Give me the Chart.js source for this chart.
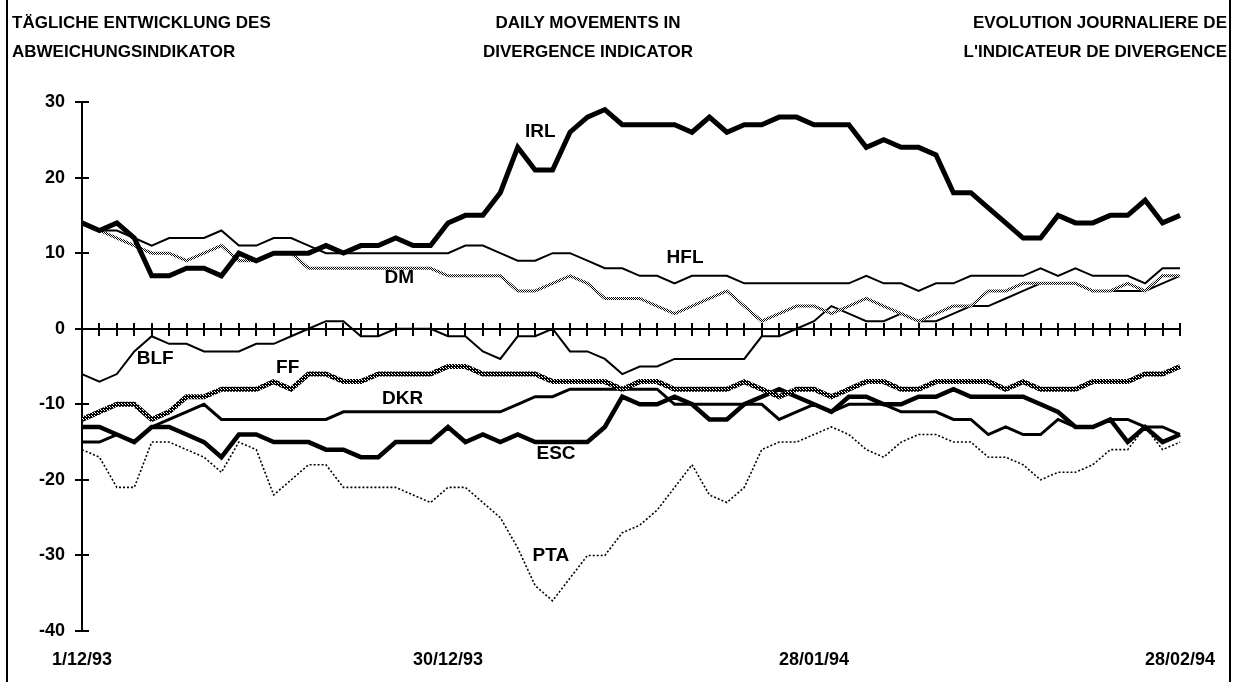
<!DOCTYPE html>
<html>
<head>
<meta charset="utf-8">
<script src="https://cdn.jsdelivr.net/npm/chart.js@4.4.1/dist/chart.umd.min.js"></script>
<style>
  body { margin: 0; background: #fff; }
  #wrap { position: relative; width: 1239px; height: 682px; background: #fff; overflow: hidden; }
  .ttl { position: absolute; top: 8px; font: bold 17px "Liberation Sans", Arial, sans-serif; line-height: 29px; color: #000; white-space: nowrap; }
  .frame { position: absolute; top: 0; width: 2px; height: 682px; background: #000; }
</style>
</head>
<body>
<div id="wrap">
  <canvas id="chart" width="1239" height="682"></canvas>
  <div class="ttl" style="left:12px;">TÄGLICHE ENTWICKLUNG DES<br>ABWEICHUNGSINDIKATOR</div>
  <div class="ttl" style="left:388px;width:400px;text-align:center;">DAILY MOVEMENTS IN<br>DIVERGENCE INDICATOR</div>
  <div class="ttl" style="right:12px;text-align:right;">EVOLUTION JOURNALIERE DE<br>L'INDICATEUR DE DIVERGENCE</div>
  <div class="frame" style="left:6px;"></div>
  <div class="frame" style="left:1229px;"></div>
</div>
<script>
// business days 1/12/93 .. 28/02/94
const dates = [
  '1/12/93','2/12/93','3/12/93','6/12/93','7/12/93','8/12/93','9/12/93','10/12/93','13/12/93','14/12/93',
  '15/12/93','16/12/93','17/12/93','20/12/93','21/12/93','22/12/93','23/12/93','24/12/93','27/12/93','28/12/93',
  '29/12/93','30/12/93','31/12/93',
  '3/01/94','4/01/94','5/01/94','6/01/94','7/01/94','10/01/94','11/01/94','12/01/94','13/01/94','14/01/94',
  '17/01/94','18/01/94','19/01/94','20/01/94','21/01/94','24/01/94','25/01/94','26/01/94','27/01/94','28/01/94',
  '31/01/94',
  '1/02/94','2/02/94','3/02/94','4/02/94','7/02/94','8/02/94','9/02/94','10/02/94','11/02/94','14/02/94',
  '15/02/94','16/02/94','17/02/94','18/02/94','21/02/94','22/02/94','23/02/94','24/02/94','25/02/94','28/02/94'
];
const shownDates = ['1/12/93', '30/12/93', '28/01/94', '28/02/94'];
const yTicks = [30, 20, 10, 0, -10, -20, -30, -40];

const irl = [14,13,14,12,7,7,8,8,7,10,9,10,10,10,11,10,11,11,12,11,11,
  14,15,15,18,24,21,21,26,28,29,27,27,27,27,26,28,26,27,27,28,28,
  27,27,27,24,25,24,24,23,18,18,16,14,12,12,15,14,14,15,15,17,14,15];
const hfl = [14,13,13,12,11,12,12,12,13,11,11,12,12,11,10,10,10,10,10,10,10,
  10,11,11,10,9,9,10,10,9,8,8,7,7,6,7,7,7,6,6,6,6,
  6,6,6,7,6,6,5,6,6,7,7,7,7,8,7,8,7,7,7,6,8,8];
const dm = [14,13,12,11,10,10,9,10,11,9,9,10,10,8,8,8,8,8,8,8,8,
  7,7,7,7,5,5,6,7,6,4,4,4,3,2,3,4,5,3,1,2,3,
  3,2,3,4,3,2,1,2,3,3,5,5,6,6,6,6,5,5,6,5,7,7];
const blf = [-6,-7,-6,-3,-1,-2,-2,-3,-3,-3,-2,-2,-1,0,1,1,-1,-1,0,0,0,
  -1,-1,-3,-4,-1,-1,0,-3,-3,-4,-6,-5,-5,-4,-4,-4,-4,-4,-1,-1,0,
  1,3,2,1,1,2,1,1,2,3,3,4,5,6,6,6,5,5,5,5,6,7];
const ff = [-12,-11,-10,-10,-12,-11,-9,-9,-8,-8,-8,-7,-8,-6,-6,-7,-7,-6,-6,-6,-6,
  -5,-5,-6,-6,-6,-6,-7,-7,-7,-7,-8,-7,-7,-8,-8,-8,-8,-7,-8,-9,-8,
  -8,-9,-8,-7,-7,-8,-8,-7,-7,-7,-7,-8,-7,-8,-8,-8,-7,-7,-7,-6,-6,-5];
const dkr = [-15,-15,-14,-15,-13,-12,-11,-10,-12,-12,-12,-12,-12,-12,-12,-11,-11,-11,-11,-11,-11,
  -11,-11,-11,-11,-10,-9,-9,-8,-8,-8,-8,-8,-8,-10,-10,-10,-10,-10,-10,-12,-11,
  -10,-11,-10,-10,-10,-11,-11,-11,-12,-12,-14,-13,-14,-14,-12,-13,-13,-12,-12,-13,-13,-14];
const esc = [-13,-13,-14,-15,-13,-13,-14,-15,-17,-14,-14,-15,-15,-15,-16,-16,-17,-17,-15,-15,-15,
  -13,-15,-14,-15,-14,-15,-15,-15,-15,-13,-9,-10,-10,-9,-10,-12,-12,-10,-9,-8,-9,
  -10,-11,-9,-9,-10,-10,-9,-9,-8,-9,-9,-9,-9,-10,-11,-13,-13,-12,-15,-13,-15,-14];
const pta = [-16,-17,-21,-21,-15,-15,-16,-17,-19,-15,-16,-22,-20,-18,-18,-21,-21,-21,-21,-22,-23,
  -21,-21,-23,-25,-29,-34,-36,-33,-30,-30,-27,-26,-24,-21,-18,-22,-23,-21,-16,-15,-15,
  -14,-13,-14,-16,-17,-15,-14,-14,-15,-15,-17,-17,-18,-20,-19,-19,-18,-16,-16,-13,-16,-15];

// name labels written next to the curves
const seriesNames = [
  { text: 'IRL', i: 26.3, v: 26 },
  { text: 'HFL', i: 34.6, v: 9.4 },
  { text: 'DM', i: 18.2, v: 6.8 },
  { text: 'BLF', i: 4.2, v: -4.0 },
  { text: 'FF', i: 11.8, v: -5.2 },
  { text: 'DKR', i: 18.4, v: -9.3 },
  { text: 'ESC', i: 27.2, v: -16.6 },
  { text: 'PTA', i: 26.9, v: -30.1 }
];

const FONT = '"Liberation Sans", Arial, sans-serif';

// small screen-like pattern for the shaded curves
function screenPattern(cells) {
  const n = cells.length;
  const c = document.createElement('canvas');
  c.width = c.height = n;
  const g = c.getContext('2d');
  for (let r = 0; r < n; r++) {
    for (let k = 0; k < n; k++) {
      g.fillStyle = cells[r][k] ? '#000' : '#fff';
      g.fillRect(k, r, 1, 1);
    }
  }
  return g.createPattern(c, 'repeat');
}

function line(label, data, width, color, dash) {
  return {
    label: label,
    data: data,
    borderColor: color,
    borderWidth: width,
    borderDash: dash || [],
    pointRadius: 0,
    tension: 0,
    fill: false,
    borderJoinStyle: 'miter',
    borderCapStyle: 'butt'
  };
}

const namePlugin = {
  id: 'names',
  afterDatasetsDraw(chart) {
    const { ctx, scales } = chart;
    ctx.save();
    ctx.font = 'bold 19px ' + FONT;
    ctx.fillStyle = '#000';
    ctx.textAlign = 'center';
    ctx.textBaseline = 'middle';
    seriesNames.forEach(n => {
      ctx.fillText(n.text, scales.x.getPixelForValue(n.i), scales.y.getPixelForValue(n.v));
    });
    ctx.restore();
  }
};

const tickFont = { family: FONT, size: 18, weight: 'bold' };
const ffPattern = screenPattern([[1, 1, 1], [1, 0, 1], [1, 1, 0]]);
const dmPattern = screenPattern([[1, 0], [0, 1]]);

new Chart(document.getElementById('chart'), {
  type: 'line',
  data: {
    labels: dates,
    datasets: [
      line('IRL', irl, 5, '#000'),
      line('HFL', hfl, 2, '#000'),
      line('DM', dm, 3, dmPattern),
      line('BLF', blf, 2, '#000'),
      line('FF', ff, 5, ffPattern),
      line('DKR', dkr, 3, '#000'),
      line('ESC', esc, 4.5, '#000'),
      line('PTA', pta, 1.6, '#000', [2, 2])
    ]
  },
  options: {
    responsive: false,
    animation: false,
    events: [],
    layout: { padding: { top: 102, right: 59, bottom: 0, left: 0 } },
    plugins: { legend: { display: false }, tooltip: { enabled: false }, title: { display: false } },
    scales: {
      x: {
        type: 'category',
        position: 'bottom',
        offset: false,
        afterFit: s => { s.height = 51; },
        border: { display: false },
        grid: { display: false, drawTicks: false },
        ticks: {
          autoSkip: false, maxRotation: 0, minRotation: 0, padding: 18,
          color: '#000', font: tickFont,
          callback: function (v) {
            const l = this.getLabelForValue(v);
            return shownDates.includes(l) ? l : '';
          }
        }
      },
      y: {
        type: 'linear',
        position: 'left',
        min: -40, max: 30,
        afterFit: s => { s.width = 82; },
        afterBuildTicks: s => { s.ticks = yTicks.map(v => ({ value: v })); },
        border: { display: true, color: '#000', width: 2 },
        grid: { drawOnChartArea: false, drawTicks: true, tickLength: 7, color: '#000', lineWidth: 2 },
        ticks: { color: '#000', font: tickFont, padding: 10 }
      },
      xz: {
        type: 'category',
        axis: 'x',
        position: { y: 0 },
        offset: false,
        border: { display: true, color: '#000', width: 2 },
        grid: { drawOnChartArea: false, drawTicks: true, tickLength: 6, color: '#000', lineWidth: 2 },
        ticks: { display: false }
      },
      xz2: {
        type: 'category',
        axis: 'x',
        position: { y: 0 },
        offset: false,
        border: { display: false },
        grid: { drawOnChartArea: false, drawTicks: true, tickLength: -6, color: '#000', lineWidth: 2 },
        ticks: { display: false }
      },
      yR: {
        type: 'linear',
        axis: 'y',
        position: { x: 0 },
        min: -40, max: 30,
        afterBuildTicks: s => { s.ticks = yTicks.map(v => ({ value: v })); },
        border: { display: false },
        grid: { drawOnChartArea: false, drawTicks: true, tickLength: -7, color: '#000', lineWidth: 2 },
        ticks: { display: false }
      }
    }
  },
  plugins: [namePlugin]
});
</script>
</body>
</html>
